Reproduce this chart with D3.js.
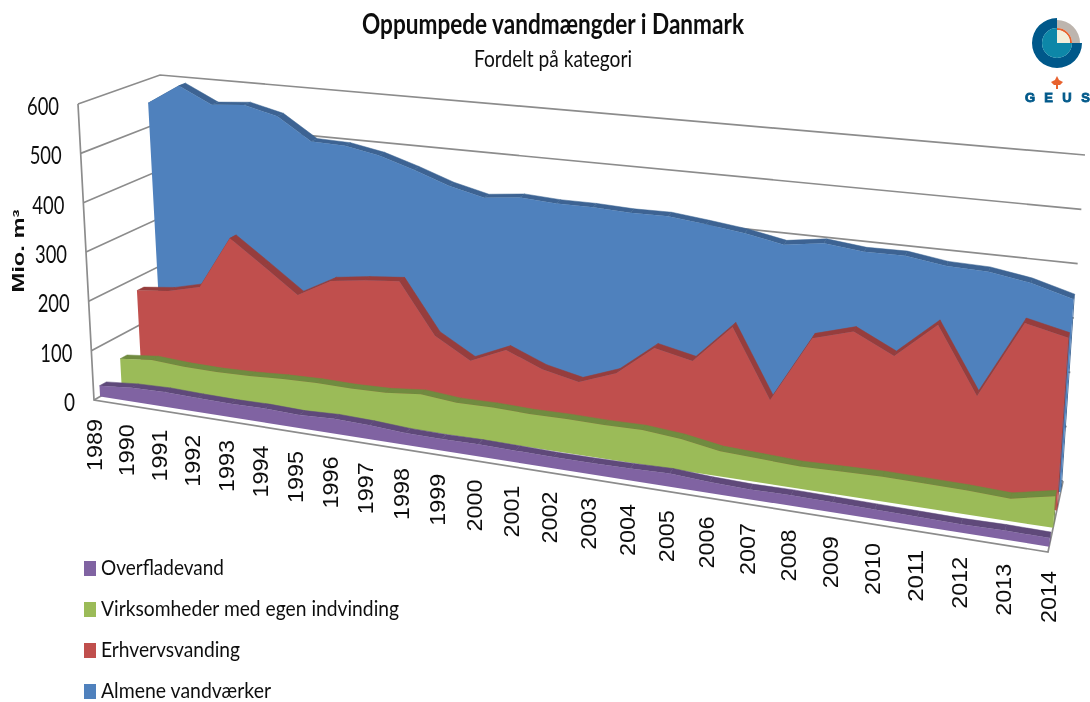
<!DOCTYPE html>
<html lang="en">
<head>
<meta charset="UTF-8">
<title>Oppumpede vandmængder i Danmark</title>
<script src="https://d3js.org/d3.v7.min.js"></script>
<style>
  html, body { margin: 0; padding: 0; background: #fff; }
  svg { display: block; }
  text { fill: #111; }
  .lato { font-family: Lato, "Open Sans", sans-serif; }
  .arial { font-family: "Liberation Sans", Arial, sans-serif; }
</style>
</head>
<body>
<div id="chart"></div>
<script>
// values, one per year
var years = d3.range(1989, 2015);
var almene = [550, 593, 559, 565, 548, 502, 500, 487, 465, 440, 423, 431, 427, 427, 424, 425, 417, 408, 394, 405, 397, 398, 387, 385, 373, 352];
var erhverv = [173, 181, 198, 307, 258, 208, 245, 255, 262, 162, 122, 153, 125, 110, 137, 195, 180, 254, 126, 252, 274, 238, 305, 185, 327, 310];
var virksomheder = [53, 60, 56, 55, 57, 61, 63, 62, 64, 71, 65, 66, 64, 65, 64, 65, 59, 47, 44, 41, 43, 45, 44, 43, 40, 56];
var overflade = [22, 28, 30, 28, 27, 28, 26, 29, 27, 23, 22, 23, 22, 21, 21, 22, 24, 20, 18, 19, 18, 17, 16, 15, 16, 15];
var yTicks = [0, 100, 200, 300, 400, 500, 600];

var legendNames = ["Overfladevand", "Virksomheder med egen indvinding", "Erhvervsvanding", "Almene vandværker"];

var svg = d3.select("#chart").append("svg")
  .attr("width", 1090)
  .attr("height", 702);

// reference is a soft upscaled picture
var blur = svg.append("defs").append("filter").attr("id", "soft");
blur.append("feGaussianBlur").attr("stdDeviation", 0.7);

var g = svg.append("g").attr("filter", "url(#soft)");

// corners of the 3d box on screen
var floorFL = [94, 400], floorBL = [175, 354], floorFR = [1048, 552], floorBR = [1063, 481];
var topFL = [78, 104], topBL = [160, 75], topFR = [1071, 206], topBR = [1085, 155];

var tScale = d3.scaleLinear().domain([1989, 2014]).range([0, 1]);
var vScale = d3.scaleLinear().domain([0, 600]).range([0, 1]);

// right side is nearer the camera, so the years spread out to the right
var warp = -0.157;
function persp(t) { return t * (1 + warp) / (1 + warp * t); }

function mix(a, b, k) { return [a[0] + (b[0] - a[0]) * k, a[1] + (b[1] - a[1]) * k]; }

// year, value, depth (0 = front, 1 = back wall)
function project(year, value, depth) {
  var t = persp(tScale(year));
  var base = mix(mix(floorFL, floorFR, t), mix(floorBL, floorBR, t), depth);
  var top = mix(mix(topFL, topFR, t), mix(topBL, topBR, t), depth);
  return mix(base, top, vScale(value));
}

var line = d3.line();

// back wall and left wall grid
yTicks.forEach(function(v) {
  g.append("path")
    .attr("d", line([project(1989, v, 0), project(1989, v, 1), project(2014, v, 1)]))
    .attr("fill", "none")
    .attr("stroke", "#8c8c8c")
    .attr("stroke-width", 1.7);
});
g.append("path")
  .attr("d", line([project(1989, 600, 0), project(1989, 0, 0), project(2014, 0, 0), project(2014, 0, 1)]))
  .attr("fill", "none")
  .attr("stroke", "#8c8c8c")
  .attr("stroke-width", 1.7);

// one block per series, back to front
var depthWidth = 0.085;
var series = [
  { values: almene, depth: 0.84, fill: "#4f81bd", dark: "#3c6493" },
  { values: erhverv, depth: 0.585, fill: "#c0504d", dark: "#963e3c" },
  { values: virksomheder, depth: 0.34, fill: "#9bbb59", dark: "#6f8b3f" },
  { values: overflade, depth: 0.075, fill: "#8064a2", dark: "#5e4a7a" }
];

series.forEach(function(s) {
  var d0 = s.depth, d1 = s.depth + depthWidth;

  // top face, one quad per year step
  g.append("g").selectAll("path")
    .data(d3.pairs(d3.range(years.length)))
    .join("path")
    .attr("d", function(p) {
      return line([
        project(years[p[0]], s.values[p[0]], d0),
        project(years[p[1]], s.values[p[1]], d0),
        project(years[p[1]], s.values[p[1]], d1),
        project(years[p[0]], s.values[p[0]], d1)
      ]) + "Z";
    })
    .attr("fill", s.dark)
    .attr("stroke", s.dark)
    .attr("stroke-width", 0.5);

  // right end face
  g.append("path")
    .attr("d", line([
      project(2014, 0, d0),
      project(2014, s.values[25], d0),
      project(2014, s.values[25], d1),
      project(2014, 0, d1)
    ]) + "Z")
    .attr("fill", s.dark);

  // front face
  var outline = years.map(function(y, i) { return project(y, s.values[i], d0); });
  outline.push(project(2014, 0, d0));
  outline.push(project(1989, 0, d0));
  g.append("path")
    .attr("d", line(outline) + "Z")
    .attr("fill", s.fill);
});

// y axis labels
g.append("g").selectAll("text")
  .data(yTicks)
  .join("text")
  .attr("class", "lato")
  .attr("x", function(v) { return project(1989, v, 0)[0] - 19; })
  .attr("y", function(v) { return project(1989, v, 0)[1] + 11; })
  .attr("text-anchor", "end")
  .attr("font-size", 25)
  .attr("textLength", function(v) { return v === 0 ? 11 : 32; })
  .attr("lengthAdjust", "spacingAndGlyphs")
  .text(function(v) { return v; });

g.append("text")
  .attr("class", "arial")
  .attr("transform", "translate(24,251) rotate(-90)")
  .attr("text-anchor", "middle")
  .attr("font-size", 16)
  .attr("font-weight", "bold")
  .attr("textLength", 83)
  .attr("lengthAdjust", "spacingAndGlyphs")
  .text("Mio. m³");

// x axis labels
g.append("g").selectAll("text")
  .data(years)
  .join("text")
  .attr("class", "arial")
  .attr("transform", function(y) {
    var p = project(y, 0, 0);
    return "translate(" + (p[0] + 8) + "," + (p[1] + 19) + ") rotate(-90)";
  })
  .attr("text-anchor", "end")
  .attr("font-size", 22)
  .attr("textLength", 52)
  .attr("lengthAdjust", "spacingAndGlyphs")
  .text(function(y) { return y; });

// titles
g.append("text")
  .attr("class", "lato")
  .attr("x", 553).attr("y", 34)
  .attr("text-anchor", "middle")
  .attr("font-size", 28)
  .attr("font-weight", "bold")
  .attr("textLength", 382)
  .attr("lengthAdjust", "spacingAndGlyphs")
  .text("Oppumpede vandmængder i Danmark");

g.append("text")
  .attr("class", "lato")
  .attr("x", 553).attr("y", 67)
  .attr("text-anchor", "middle")
  .attr("font-size", 23)
  .attr("textLength", 158)
  .attr("lengthAdjust", "spacingAndGlyphs")
  .text("Fordelt på kategori");

// legend
var legendColors = ["#8064a2", "#9bbb59", "#c0504d", "#4f81bd"];
var legendY = d3.scalePoint().domain(legendNames).range([568, 691]);
var legendWidths = [123, 298, 139, 170];

var legend = g.append("g").selectAll("g")
  .data(legendNames)
  .join("g")
  .attr("transform", function(d) { return "translate(84," + legendY(d) + ")"; });

legend.append("rect")
  .attr("y", -7).attr("width", 12).attr("height", 15)
  .attr("fill", function(d, i) { return legendColors[i]; });

legend.append("text")
  .attr("class", "lato")
  .attr("x", 17).attr("y", 6.5)
  .attr("font-size", 22)
  .attr("textLength", function(d, i) { return legendWidths[i]; })
  .attr("lengthAdjust", "spacingAndGlyphs")
  .text(function(d) { return d; });

// GEUS logo
var logo = g.append("g").attr("transform", "translate(1057,43)");
var arc = d3.arc();
var q = Math.PI / 2;
logo.append("path").attr("fill", "#00598a")
  .attr("d", arc({ innerRadius: 15, outerRadius: 25, startAngle: q, endAngle: 4 * q }));
logo.append("path").attr("fill", "#0a87a8")
  .attr("d", arc({ innerRadius: 0, outerRadius: 15, startAngle: q, endAngle: 4 * q }));
logo.append("path").attr("fill", "#bdb5ae")
  .attr("d", arc({ innerRadius: 15, outerRadius: 23, startAngle: 0, endAngle: q }));
logo.append("path").attr("fill", "#e8622e")
  .attr("d", arc({ innerRadius: 13, outerRadius: 15, startAngle: 0, endAngle: q }));
logo.append("path").attr("fill", "#f3eeda")
  .attr("d", arc({ innerRadius: 0, outerRadius: 13, startAngle: 0, endAngle: q }));

logo.append("path").attr("fill", "#e8622e")
  .attr("d", line([[0, 33], [2, 37], [6, 39], [3, 42], [1, 42], [1, 46], [-1, 46], [-1, 42], [-3, 42], [-6, 39], [-2, 37]]) + "Z");

g.append("g").selectAll("text")
  .data(["G", "E", "U", "S"])
  .join("text")
  .attr("class", "arial")
  .attr("x", function(d, i) { return 1030 + i * 18.5; })
  .attr("y", 102)
  .attr("text-anchor", "middle")
  .attr("font-size", 13)
  .attr("font-weight", "bold")
  .style("fill", "#00598a")
  .style("stroke", "#00598a")
  .style("stroke-width", 0.8)
  .text(function(d) { return d; });
</script>
</body>
</html>
